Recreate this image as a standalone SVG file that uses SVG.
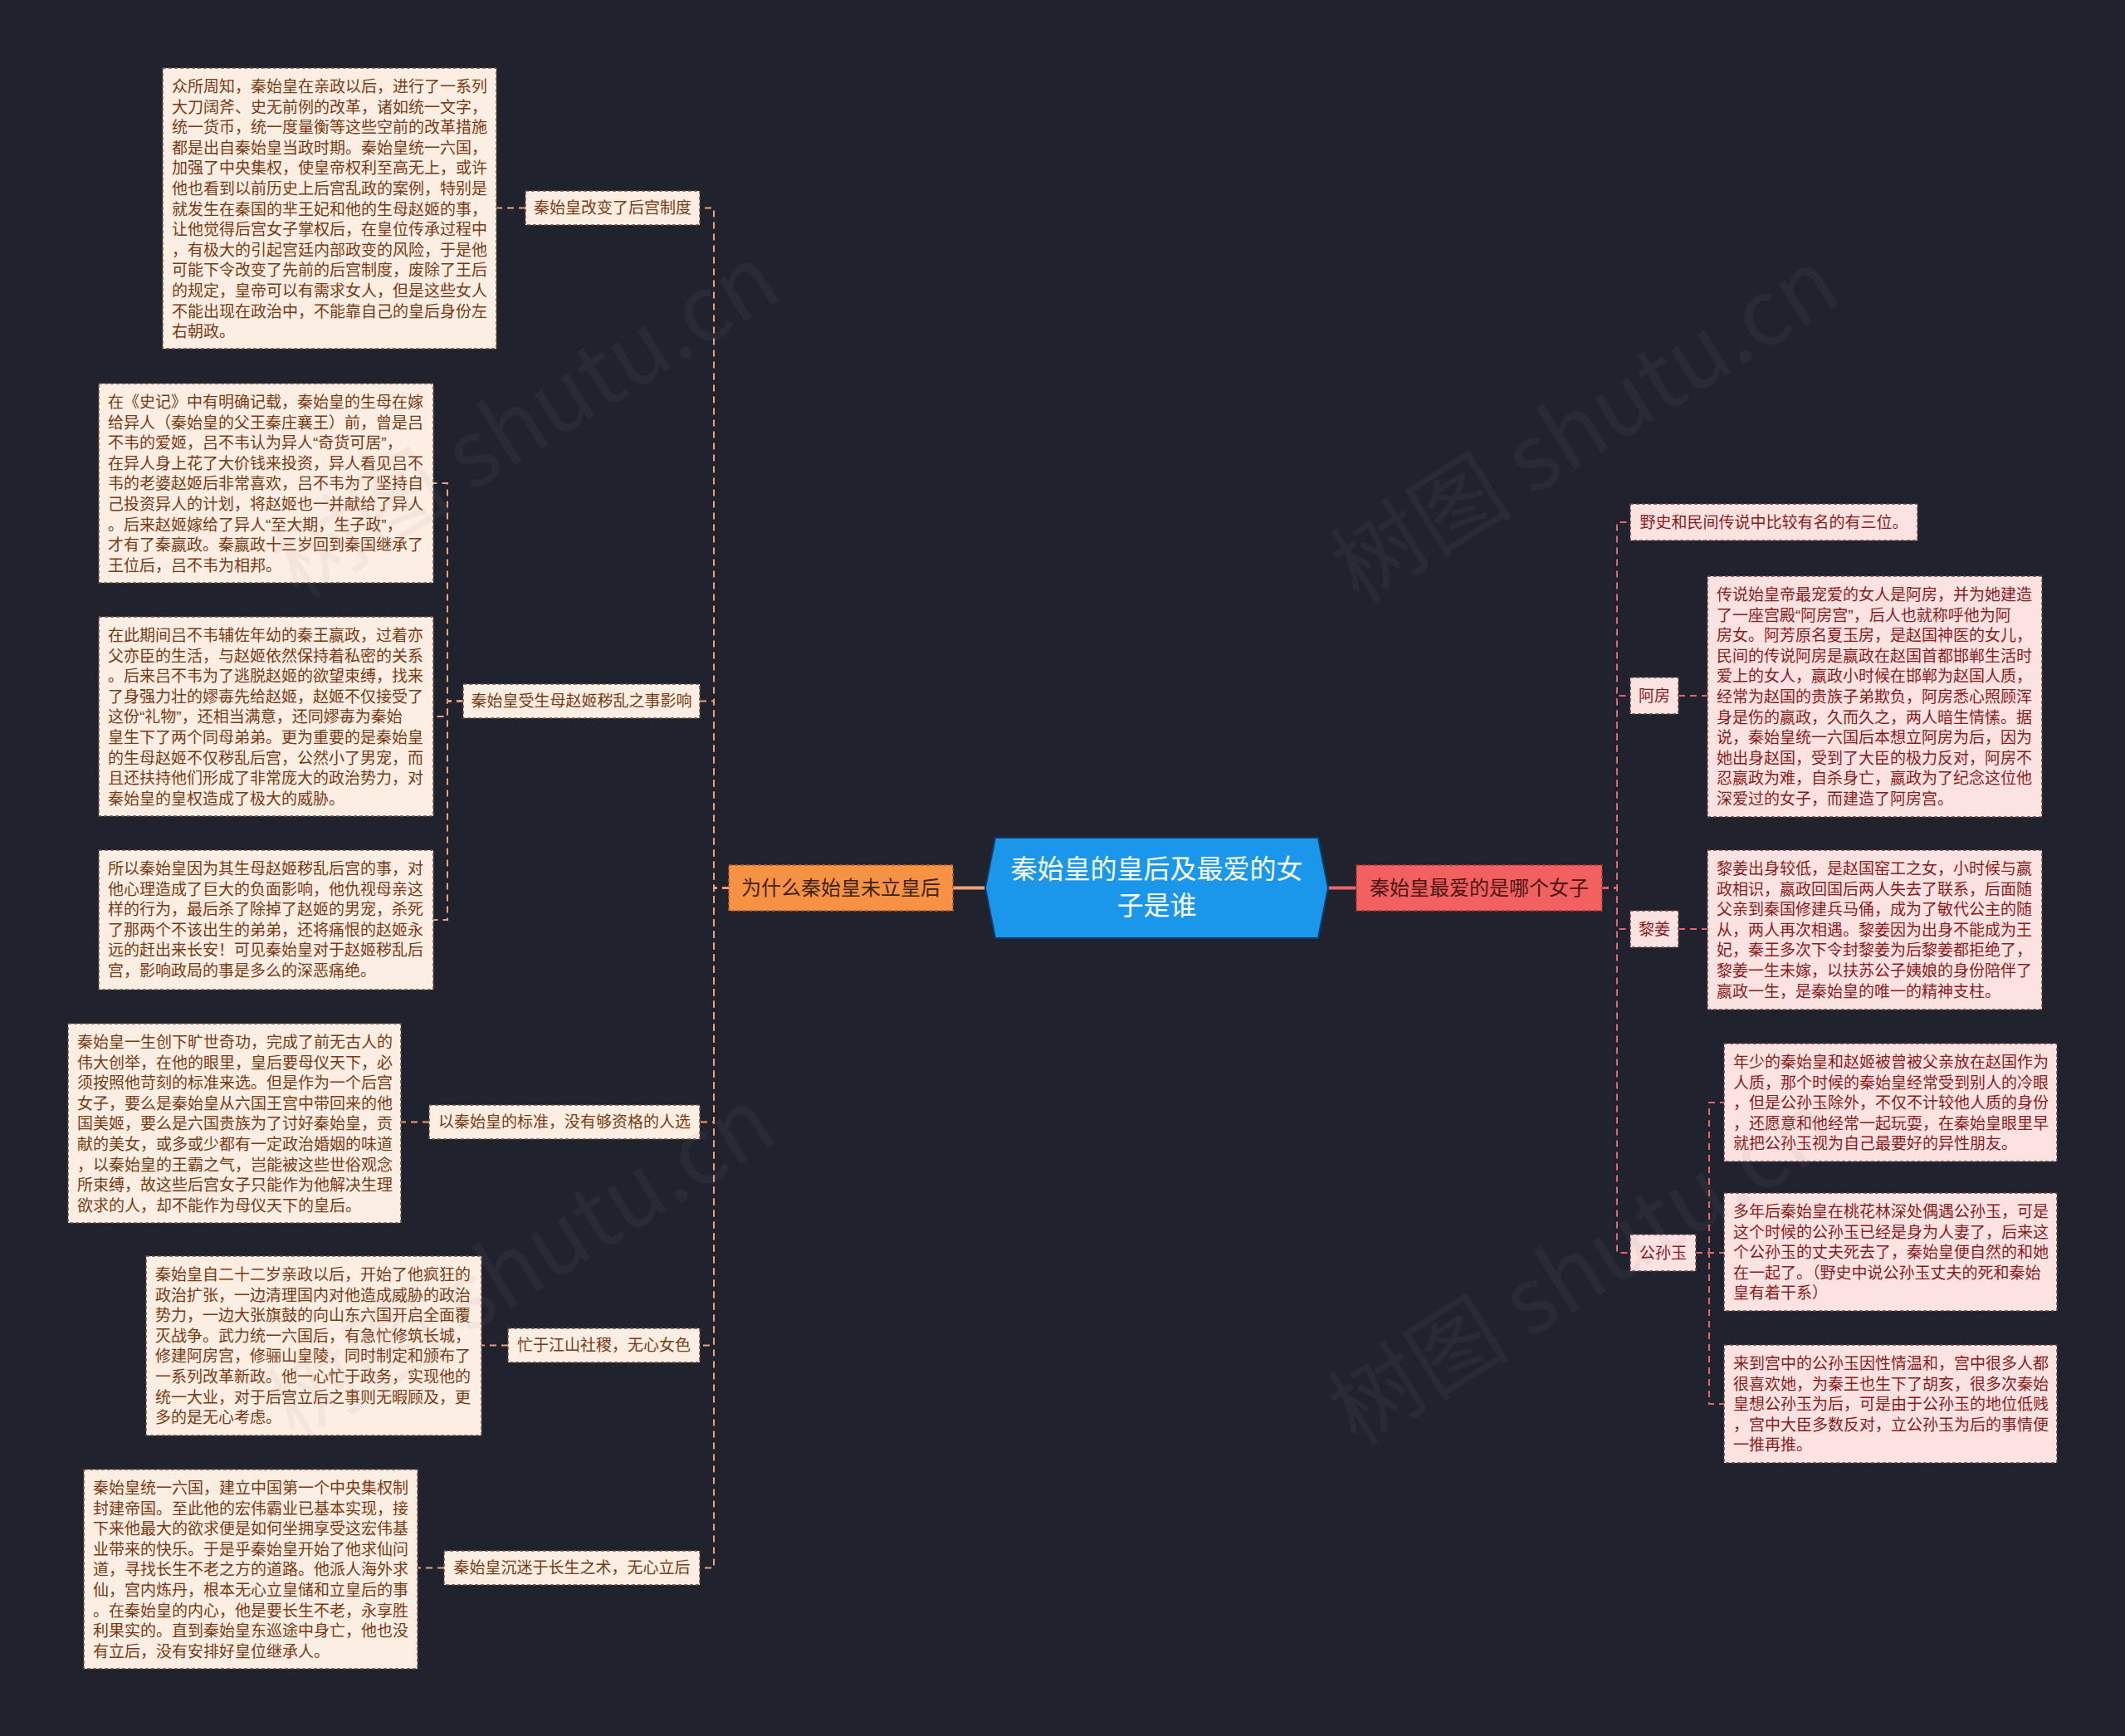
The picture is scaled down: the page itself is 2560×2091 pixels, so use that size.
<svg xmlns="http://www.w3.org/2000/svg" width="2560" height="2091" viewBox="0 0 2560 2091">
<style>
.cjk{font-family:"Noto Sans CJK SC","Noto Sans",sans-serif}
.q{font-family:"Liberation Sans","Noto Sans",sans-serif}
.lbox{fill:#fdeee3;stroke:#6e5040;stroke-width:1.5;stroke-dasharray:4 3}
.rbox{fill:#fde2e2;stroke:#6e4040;stroke-width:1.5;stroke-dasharray:4 3}
.ltxt{font-size:19px;fill:#7a3a12}
.rtxt{font-size:19px;fill:#8a1c1c}
.lab{font-size:19px;text-anchor:middle}
.lconn{fill:none;stroke:#f0a274;stroke-width:2;stroke-dasharray:8 6}
.rconn{fill:none;stroke:#e8646a;stroke-width:2;stroke-dasharray:8 6}
.wm{font-family:"Noto Sans CJK SC","Liberation Sans",sans-serif;font-size:110px;fill:#8a8a8a;opacity:0.08;text-anchor:middle}
</style>
<rect x="0" y="0" width="2560" height="2091" fill="#20232e"/>

<g id="connectors">
  <path d="M1148 1069.5 H1187" stroke="#f0a274" stroke-width="4" fill="none"/>
  <path d="M1600 1069.5 H1634" stroke="#e8646a" stroke-width="4" fill="none"/>
  <path class="lconn" d="M878 1069.5 H860 V250.5 H843"/>
  <path class="lconn" d="M878 1069.5 H860 V844.5 H843"/>
  <path class="lconn" d="M878 1069.5 H860 V1351.5 H843"/>
  <path class="lconn" d="M878 1069.5 H860 V1620.5 H843"/>
  <path class="lconn" d="M878 1069.5 H860 V1888.5 H843"/>
  <path class="lconn" d="M633 250.5 H598"/>
  <path class="lconn" d="M558 844.5 H539 V582 H522"/>
  <path class="lconn" d="M558 844.5 H539 V863 H522"/>
  <path class="lconn" d="M558 844.5 H539 V1108 H522"/>
  <path class="lconn" d="M517 1351.5 H483"/>
  <path class="lconn" d="M612 1620.5 H580"/>
  <path class="lconn" d="M535 1888.5 H503"/>
  <path class="rconn" d="M1930 1069.5 H1948 V629 H1964"/>
  <path class="rconn" d="M1930 1069.5 H1948 V838 H1964"/>
  <path class="rconn" d="M1930 1069.5 H1948 V1119 H1964"/>
  <path class="rconn" d="M1930 1069.5 H1948 V1509 H1964"/>
  <path class="rconn" d="M2022 838 H2057"/>
  <path class="rconn" d="M2022 1119 H2057"/>
  <path class="rconn" d="M2043 1509 H2059 V1328 H2077"/>
  <path class="rconn" d="M2043 1509 H2077"/>
  <path class="rconn" d="M2043 1509 H2059 V1691 H2077"/>
</g>

<g id="root">
  <polygon points="1199,1009 1588,1009 1600,1069.5 1588,1130 1199,1130 1187,1069.5" fill="#1a97ea" stroke="#123a66" stroke-width="2"/>
  <text class="cjk" x="1393.5" y="1058" font-size="32" fill="#ffffff" text-anchor="middle">秦始皇的皇后及最爱的女</text>
  <text class="cjk" x="1393.5" y="1102" font-size="32" fill="#ffffff" text-anchor="middle">子是谁</text>
</g>

<g id="main-left">
  <rect x="878" y="1042" width="270" height="55" fill="#f79245" stroke="#b0602a" stroke-width="1.5" stroke-dasharray="4 3"/>
  <text class="cjk" x="1013" y="1078" font-size="24" fill="#3b2411" text-anchor="middle">为什么秦始皇未立皇后</text>
</g>
<g id="main-right">
  <rect x="1634" y="1042" width="296" height="55" fill="#f2605f" stroke="#a83838" stroke-width="1.5" stroke-dasharray="4 3"/>
  <text class="cjk" x="1782" y="1078" font-size="24" fill="#4a1515" text-anchor="middle">秦始皇最爱的是哪个女子</text>
</g>

<g id="label-l1"><rect class="lbox" x="633" y="230" width="210" height="41"/><text class="cjk lab ltxt" x="738" y="257">秦始皇改变了后宫制度</text></g>
<g id="label-l2"><rect class="lbox" x="558" y="824" width="285" height="41"/><text class="cjk lab ltxt" x="700.5" y="851">秦始皇受生母赵姬秽乱之事影响</text></g>
<g id="label-l3"><rect class="lbox" x="517" y="1331" width="326" height="41"/><text class="cjk lab ltxt" x="680" y="1358">以秦始皇的标准，没有够资格的人选</text></g>
<g id="label-l4"><rect class="lbox" x="612" y="1600" width="231" height="41"/><text class="cjk lab ltxt" x="727.5" y="1627">忙于江山社稷，无心女色</text></g>
<g id="label-l5"><rect class="lbox" x="535" y="1868" width="308" height="41"/><text class="cjk lab ltxt" x="689" y="1895">秦始皇沉迷于长生之术，无心立后</text></g>

<g id="box-l1"><rect class="lbox" x="196" y="82" width="402" height="338"/>
<text class="cjk ltxt" x="207" y="111"><tspan x="207" dy="0">众所周知，秦始皇在亲政以后，进行了一系列</tspan><tspan x="207" dy="24.6">大刀阔斧、史无前例的改革，诸如统一文字，</tspan><tspan x="207" dy="24.6">统一货币，统一度量衡等这些空前的改革措施</tspan><tspan x="207" dy="24.6">都是出自秦始皇当政时期。秦始皇统一六国，</tspan><tspan x="207" dy="24.6">加强了中央集权，使皇帝权利至高无上，或许</tspan><tspan x="207" dy="24.6">他也看到以前历史上后宫乱政的案例，特别是</tspan><tspan x="207" dy="24.6">就发生在秦国的芈王妃和他的生母赵姬的事，</tspan><tspan x="207" dy="24.6">让他觉得后宫女子掌权后，在皇位传承过程中</tspan><tspan x="207" dy="24.6">，有极大的引起宫廷内部政变的风险，于是他</tspan><tspan x="207" dy="24.6">可能下令改变了先前的后宫制度，废除了王后</tspan><tspan x="207" dy="24.6">的规定，皇帝可以有需求女人，但是这些女人</tspan><tspan x="207" dy="24.6">不能出现在政治中，不能靠自己的皇后身份左</tspan><tspan x="207" dy="24.6">右朝政。</tspan></text></g>

<g id="box-l2"><rect class="lbox" x="119" y="462" width="403" height="240"/>
<text class="cjk ltxt" x="130" y="491"><tspan x="130" dy="0">在《史记》中有明确记载，秦始皇的生母在嫁</tspan><tspan x="130" dy="24.6">给异人（秦始皇的父王秦庄襄王）前，曾是吕</tspan><tspan x="130" dy="24.6">不韦的爱姬，吕不韦认为异人<tspan class="q">“</tspan>奇货可居<tspan class="q">”</tspan>，</tspan><tspan x="130" dy="24.6">在异人身上花了大价钱来投资，异人看见吕不</tspan><tspan x="130" dy="24.6">韦的老婆赵姬后非常喜欢，吕不韦为了坚持自</tspan><tspan x="130" dy="24.6">己投资异人的计划，将赵姬也一并献给了异人</tspan><tspan x="130" dy="24.6">。后来赵姬嫁给了异人<tspan class="q">“</tspan>至大期，生子政<tspan class="q">”</tspan>，</tspan><tspan x="130" dy="24.6">才有了秦嬴政。秦嬴政十三岁回到秦国继承了</tspan><tspan x="130" dy="24.6">王位后，吕不韦为相邦。</tspan></text></g>

<g id="box-l3"><rect class="lbox" x="119" y="743" width="403" height="240"/>
<text class="cjk ltxt" x="130" y="772"><tspan x="130" dy="0">在此期间吕不韦辅佐年幼的秦王嬴政，过着亦</tspan><tspan x="130" dy="24.6">父亦臣的生活，与赵姬依然保持着私密的关系</tspan><tspan x="130" dy="24.6">。后来吕不韦为了逃脱赵姬的欲望束缚，找来</tspan><tspan x="130" dy="24.6">了身强力壮的嫪毐先给赵姬，赵姬不仅接受了</tspan><tspan x="130" dy="24.6">这份<tspan class="q">“</tspan>礼物<tspan class="q">”</tspan>，还相当满意，还同嫪毐为秦始</tspan><tspan x="130" dy="24.6">皇生下了两个同母弟弟。更为重要的是秦始皇</tspan><tspan x="130" dy="24.6">的生母赵姬不仅秽乱后宫，公然小了男宠，而</tspan><tspan x="130" dy="24.6">且还扶持他们形成了非常庞大的政治势力，对</tspan><tspan x="130" dy="24.6">秦始皇的皇权造成了极大的威胁。</tspan></text></g>

<g id="box-l4"><rect class="lbox" x="119" y="1024" width="403" height="168"/>
<text class="cjk ltxt" x="130" y="1053"><tspan x="130" dy="0">所以秦始皇因为其生母赵姬秽乱后宫的事，对</tspan><tspan x="130" dy="24.6">他心理造成了巨大的负面影响，他仇视母亲这</tspan><tspan x="130" dy="24.6">样的行为，最后杀了除掉了赵姬的男宠，杀死</tspan><tspan x="130" dy="24.6">了那两个不该出生的弟弟，还将痛恨的赵姬永</tspan><tspan x="130" dy="24.6">远的赶出来长安！可见秦始皇对于赵姬秽乱后</tspan><tspan x="130" dy="24.6">宫，影响政局的事是多么的深恶痛绝。</tspan></text></g>

<g id="box-l5"><rect class="lbox" x="82" y="1233" width="401" height="240"/>
<text class="cjk ltxt" x="93" y="1262"><tspan x="93" dy="0">秦始皇一生创下旷世奇功，完成了前无古人的</tspan><tspan x="93" dy="24.6">伟大创举，在他的眼里，皇后要母仪天下，必</tspan><tspan x="93" dy="24.6">须按照他苛刻的标准来选。但是作为一个后宫</tspan><tspan x="93" dy="24.6">女子，要么是秦始皇从六国王宫中带回来的他</tspan><tspan x="93" dy="24.6">国美姬，要么是六国贵族为了讨好秦始皇，贡</tspan><tspan x="93" dy="24.6">献的美女，或多或少都有一定政治婚姻的味道</tspan><tspan x="93" dy="24.6">，以秦始皇的王霸之气，岂能被这些世俗观念</tspan><tspan x="93" dy="24.6">所束缚，故这些后宫女子只能作为他解决生理</tspan><tspan x="93" dy="24.6">欲求的人，却不能作为母仪天下的皇后。</tspan></text></g>

<g id="box-l6"><rect class="lbox" x="176" y="1513" width="404" height="216"/>
<text class="cjk ltxt" x="187" y="1542"><tspan x="187" dy="0">秦始皇自二十二岁亲政以后，开始了他疯狂的</tspan><tspan x="187" dy="24.6">政治扩张，一边清理国内对他造成威胁的政治</tspan><tspan x="187" dy="24.6">势力，一边大张旗鼓的向山东六国开启全面覆</tspan><tspan x="187" dy="24.6">灭战争。武力统一六国后，有急忙修筑长城，</tspan><tspan x="187" dy="24.6">修建阿房宫，修骊山皇陵，同时制定和颁布了</tspan><tspan x="187" dy="24.6">一系列改革新政。他一心忙于政务，实现他的</tspan><tspan x="187" dy="24.6">统一大业，对于后宫立后之事则无暇顾及，更</tspan><tspan x="187" dy="24.6">多的是无心考虑。</tspan></text></g>

<g id="box-l7"><rect class="lbox" x="101" y="1770" width="402" height="240"/>
<text class="cjk ltxt" x="112" y="1799"><tspan x="112" dy="0">秦始皇统一六国，建立中国第一个中央集权制</tspan><tspan x="112" dy="24.6">封建帝国。至此他的宏伟霸业已基本实现，接</tspan><tspan x="112" dy="24.6">下来他最大的欲求便是如何坐拥享受这宏伟基</tspan><tspan x="112" dy="24.6">业带来的快乐。于是乎秦始皇开始了他求仙问</tspan><tspan x="112" dy="24.6">道，寻找长生不老之方的道路。他派人海外求</tspan><tspan x="112" dy="24.6">仙，宫内炼丹，根本无心立皇储和立皇后的事</tspan><tspan x="112" dy="24.6">。在秦始皇的内心，他是要长生不老，永享胜</tspan><tspan x="112" dy="24.6">利果实的。直到秦始皇东巡途中身亡，他也没</tspan><tspan x="112" dy="24.6">有立后，没有安排好皇位继承人。</tspan></text></g>

<g id="label-r1"><rect class="rbox" x="1964" y="607" width="346" height="44"/><text class="cjk lab rtxt" x="2137" y="636">野史和民间传说中比较有名的有三位。</text></g>
<g id="label-r2"><rect class="rbox" x="1964" y="816" width="58" height="44"/><text class="cjk lab rtxt" x="1993" y="845">阿房</text></g>
<g id="label-r3"><rect class="rbox" x="1964" y="1097" width="58" height="44"/><text class="cjk lab rtxt" x="1993" y="1126">黎姜</text></g>
<g id="label-r4"><rect class="rbox" x="1964" y="1487" width="79" height="44"/><text class="cjk lab rtxt" x="2003.5" y="1516">公孙玉</text></g>

<g id="box-r1"><rect class="rbox" x="2057" y="694" width="403" height="290"/>
<text class="cjk rtxt" x="2068" y="723"><tspan x="2068" dy="0">传说始皇帝最宠爱的女人是阿房，并为她建造</tspan><tspan x="2068" dy="24.6">了一座宫殿<tspan class="q">“</tspan>阿房宫<tspan class="q">”</tspan>，后人也就称呼他为阿</tspan><tspan x="2068" dy="24.6">房女。阿芳原名夏玉房，是赵国神医的女儿，</tspan><tspan x="2068" dy="24.6">民间的传说阿房是嬴政在赵国首都邯郸生活时</tspan><tspan x="2068" dy="24.6">爱上的女人，嬴政小时候在邯郸为赵国人质，</tspan><tspan x="2068" dy="24.6">经常为赵国的贵族子弟欺负，阿房悉心照顾浑</tspan><tspan x="2068" dy="24.6">身是伤的嬴政，久而久之，两人暗生情愫。据</tspan><tspan x="2068" dy="24.6">说，秦始皇统一六国后本想立阿房为后，因为</tspan><tspan x="2068" dy="24.6">她出身赵国，受到了大臣的极力反对，阿房不</tspan><tspan x="2068" dy="24.6">忍嬴政为难，自杀身亡，嬴政为了纪念这位他</tspan><tspan x="2068" dy="24.6">深爱过的女子，而建造了阿房宫。</tspan></text></g>

<g id="box-r2"><rect class="rbox" x="2057" y="1024" width="403" height="192"/>
<text class="cjk rtxt" x="2068" y="1053"><tspan x="2068" dy="0">黎姜出身较低，是赵国窑工之女，小时候与嬴</tspan><tspan x="2068" dy="24.6">政相识，嬴政回国后两人失去了联系，后面随</tspan><tspan x="2068" dy="24.6">父亲到秦国修建兵马俑，成为了敏代公主的随</tspan><tspan x="2068" dy="24.6">从，两人再次相遇。黎姜因为出身不能成为王</tspan><tspan x="2068" dy="24.6">妃，秦王多次下令封黎姜为后黎姜都拒绝了，</tspan><tspan x="2068" dy="24.6">黎姜一生未嫁，以扶苏公子姨娘的身份陪伴了</tspan><tspan x="2068" dy="24.6">嬴政一生，是秦始皇的唯一的精神支柱。</tspan></text></g>

<g id="box-r3"><rect class="rbox" x="2077" y="1257" width="401" height="142"/>
<text class="cjk rtxt" x="2088" y="1286"><tspan x="2088" dy="0">年少的秦始皇和赵姬被曾被父亲放在赵国作为</tspan><tspan x="2088" dy="24.6">人质，那个时候的秦始皇经常受到别人的冷眼</tspan><tspan x="2088" dy="24.6">，但是公孙玉除外，不仅不计较他人质的身份</tspan><tspan x="2088" dy="24.6">，还愿意和他经常一起玩耍，在秦始皇眼里早</tspan><tspan x="2088" dy="24.6">就把公孙玉视为自己最要好的异性朋友。</tspan></text></g>

<g id="box-r4"><rect class="rbox" x="2077" y="1437" width="401" height="142"/>
<text class="cjk rtxt" x="2088" y="1466"><tspan x="2088" dy="0">多年后秦始皇在桃花林深处偶遇公孙玉，可是</tspan><tspan x="2088" dy="24.6">这个时候的公孙玉已经是身为人妻了，后来这</tspan><tspan x="2088" dy="24.6">个公孙玉的丈夫死去了，秦始皇便自然的和她</tspan><tspan x="2088" dy="24.6">在一起了。（野史中说公孙玉丈夫的死和秦始</tspan><tspan x="2088" dy="24.6">皇有着干系）</tspan></text></g>

<g id="box-r5"><rect class="rbox" x="2077" y="1620" width="401" height="142"/>
<text class="cjk rtxt" x="2088" y="1649"><tspan x="2088" dy="0">来到宫中的公孙玉因性情温和，宫中很多人都</tspan><tspan x="2088" dy="24.6">很喜欢她，为秦王也生下了胡亥，很多次秦始</tspan><tspan x="2088" dy="24.6">皇想公孙玉为后，可是由于公孙玉的地位低贱</tspan><tspan x="2088" dy="24.6">，宫中大臣多数反对，立公孙玉为后的事情便</tspan><tspan x="2088" dy="24.6">一推再推。</tspan></text></g>

<g id="watermark">
  <text class="wm" transform="translate(653,540) rotate(-32)">树图 shutu.cn</text>
  <text class="wm" transform="translate(1930,545) rotate(-32)">树图 shutu.cn</text>
  <text class="wm" transform="translate(648,1555) rotate(-32)">树图 shutu.cn</text>
  <text class="wm" transform="translate(1927,1560) rotate(-32)">树图 shutu.cn</text>
</g>
</svg>
